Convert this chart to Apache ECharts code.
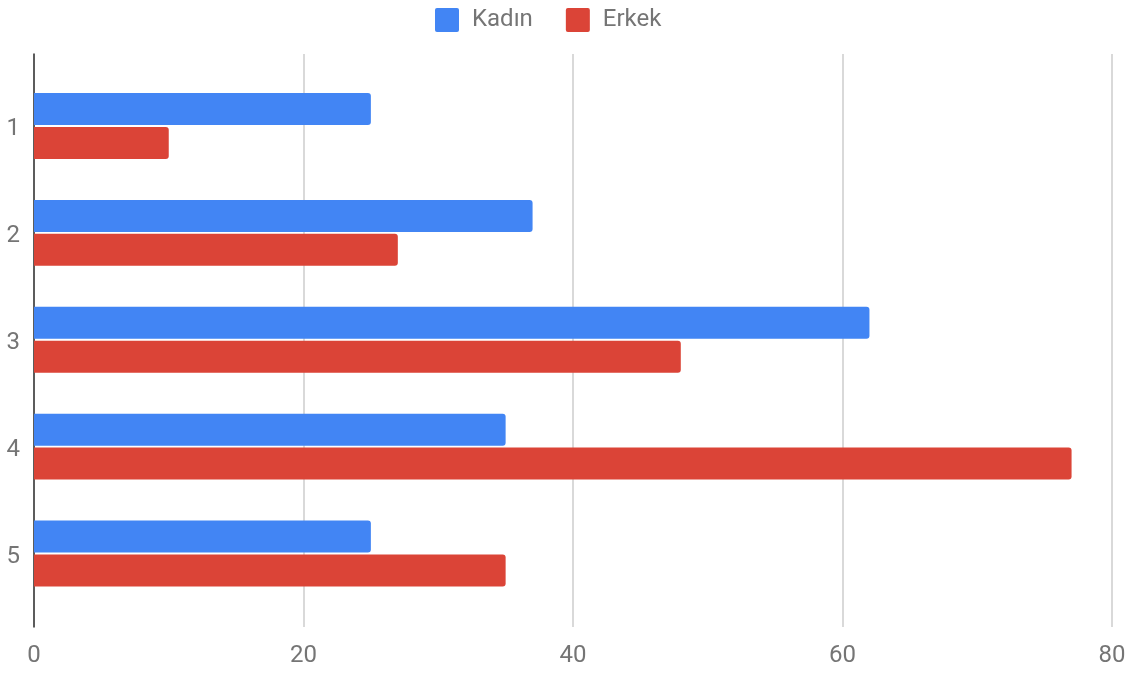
<!DOCTYPE html>
<html>
<head>
<meta charset="utf-8">
<script src="https://cdn.jsdelivr.net/npm/echarts@6/dist/echarts.min.js"></script>
<style>
  html, body { margin: 0; padding: 0; background: #fff; }
  #chart { width: 1146px; height: 675px; }
</style>
</head>
<body>
<div id="chart"></div>
<script>
// Category labels (top to bottom) and series values
const categories = ['1', '2', '3', '4', '5'];
const seriesNames = ['Kadın', 'Erkek'];
const kadin = [25, 37, 62, 35, 25];
const erkek = [10, 27, 48, 77, 35];
const xTicks = { min: 0, max: 80, interval: 20 };

const FONT = 'Roboto, "Noto Sans", sans-serif';
const TEXT = '#757575';
const COLORS = ['#4285F4', '#DB4437'];
// square legend swatch with slightly rounded corners
const SWATCH = 'path://M2,0H22A2,2,0,0,1,24,2V22A2,2,0,0,1,22,24H2A2,2,0,0,1,0,22V2A2,2,0,0,1,2,0Z';

const chart = echarts.init(document.getElementById('chart'), null, { renderer: 'canvas' });

chart.setOption({
  animation: false,
  color: COLORS,
  textStyle: { fontFamily: FONT },
  legend: {
    data: seriesNames,
    left: 430,
    top: 3,
    itemWidth: 24,
    itemHeight: 24,
    itemGap: 33,
    icon: SWATCH,
    textStyle: { fontSize: 24, color: TEXT, fontFamily: FONT, padding: [0, 0, 0, 8] }
  },
  grid: [
    // frame: gridlines, x tick labels and the baseline
    { left: 34, right: 34, top: 54, bottom: 48 },
    // bars
    { left: 34, right: 34, top: 72.5, bottom: 68 }
  ],
  xAxis: [
    {
      gridIndex: 0,
      type: 'value',
      min: xTicks.min, max: xTicks.max, interval: xTicks.interval,
      axisLine: { show: false },
      axisTick: { show: false },
      splitLine: { show: true, lineStyle: { color: '#cccccc', width: 1.5 } },
      axisLabel: { fontSize: 24, color: TEXT, margin: 17, fontFamily: FONT }
    },
    {
      gridIndex: 1,
      type: 'value',
      min: xTicks.min, max: xTicks.max,
      show: false
    }
  ],
  yAxis: [
    {
      gridIndex: 0,
      type: 'value',
      axisLine: { show: true, lineStyle: { color: '#333333', width: 1.5 } },
      axisTick: { show: false },
      axisLabel: { show: false },
      splitLine: { show: false }
    },
    {
      gridIndex: 1,
      type: 'category',
      data: categories,
      inverse: true,
      axisLine: { show: false },
      axisTick: { show: false },
      splitLine: { show: false },
      axisLabel: {
        margin: 14,
        formatter: '{c|{value}}',
        rich: {
          c: { fontSize: 24, color: TEXT, fontFamily: FONT, padding: [7, 0, 0, 0] }
        }
      }
    }
  ],
  series: [
    {
      name: seriesNames[0],
      type: 'bar',
      xAxisIndex: 1, yAxisIndex: 1,
      data: kadin,
      barWidth: 32,
      barGap: '6%',
      itemStyle: { color: COLORS[0], borderRadius: [0, 3, 3, 0] }
    },
    {
      name: seriesNames[1],
      type: 'bar',
      xAxisIndex: 1, yAxisIndex: 1,
      data: erkek,
      barWidth: 32,
      barGap: '6%',
      itemStyle: { color: COLORS[1], borderRadius: [0, 3, 3, 0] }
    }
  ]
});
</script>
</body>
</html>
